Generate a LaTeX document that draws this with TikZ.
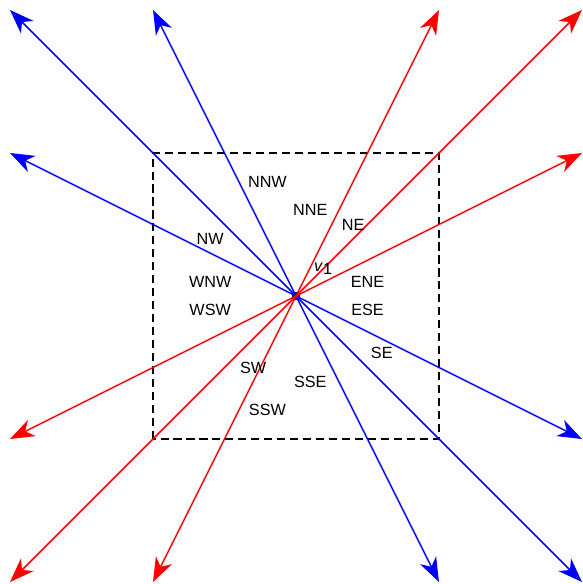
\documentclass[tikz,border=0pt]{standalone}
\usepackage{fontspec}
\setmainfont{Liberation Sans}
\usepackage{tikz}
\usetikzlibrary{arrows.meta}

\begin{document}
\begin{tikzpicture}[x=3.1cm, y=3.1cm, >={Stealth[length=15pt, width=11pt, inset=4.5pt]},
    ray/.style={->, line width=0.9pt},
    lbl/.style={font=\normalsize}]
            \useasboundingbox (-2.07,-2.014) rectangle (2.007,2.07);

            % Box
            \draw[dash pattern=on 5pt off 3pt, line width=0.9pt] (-1,-1) rectangle (1,1);

            % Centre point
            \node[fill=black, inner sep=0pt, minimum size=5pt] (O) at (0,0) {};

            % Ends of the rays
            \coordinate (R1) at (1,2);
            \coordinate (R2) at (2,2);
            \coordinate (R3) at (2,1);
            \coordinate (R4) at (-2,-1);
            \coordinate (R5) at (-2,-2);
            \coordinate (R6) at (-1,-2);
            \coordinate (B1) at (-2,2);
            \coordinate (B2) at (-1,2);
            \coordinate (B3) at (-2,1);
            \coordinate (B4) at (2,-1);
            \coordinate (B5) at (1,-2);
            \coordinate (B6) at (2,-2);

            % Blue rays
            \draw[ray, blue] (O.center) -- (B1);
            \draw[ray, blue] (O.center) -- (B2);
            \draw[ray, blue] (O.center) -- (B3);
            \draw[ray, blue] (O.center) -- (B4);
            \draw[ray, blue] (O.center) -- (B5);
            \draw[ray, blue] (O.center) -- (B6);

            % Red rays
            \draw[ray, red] (O.center) -- (R1);
            \draw[ray, red] (O.center) -- (R2);
            \draw[ray, red] (O.center) -- (R3);
            \draw[ray, red] (O.center) -- (R4);
            \draw[ray, red] (O.center) -- (R5);
            \draw[ray, red] (O.center) -- (R6);

            % Labels
            \node[lbl] (nnw) at (-0.2, 0.8) {NNW};
            \node[lbl] (nne) at (0.1, 0.6) {NNE};
            \node[lbl] (ne) at (0.4, 0.5) {NE};
            \node[lbl] (nw) at (-0.6, 0.4) {NW};
            \node[lbl] (wnw) at (-0.6, 0.1) {WNW};
            \node[lbl] (wsw) at (-0.6, -0.1) {WSW};
            \node[lbl] (ene) at (0.5, 0.1) {ENE};
            \node[lbl] (ese) at (0.5, -0.1) {ESE};
            \node[lbl] (se) at (0.6, -0.4) {SE};
            \node[lbl] (sw) at (-0.3, -0.5) {SW};
            \node[lbl] (sse) at (0.1, -0.6) {SSE};
            \node[lbl] (ssw) at (-0.2, -0.8) {SSW};
            \node[lbl] (v1) at (0.19, 0.19) {\textit{v}\raisebox{-0.3ex}{1}};
\end{tikzpicture}
\end{document}
